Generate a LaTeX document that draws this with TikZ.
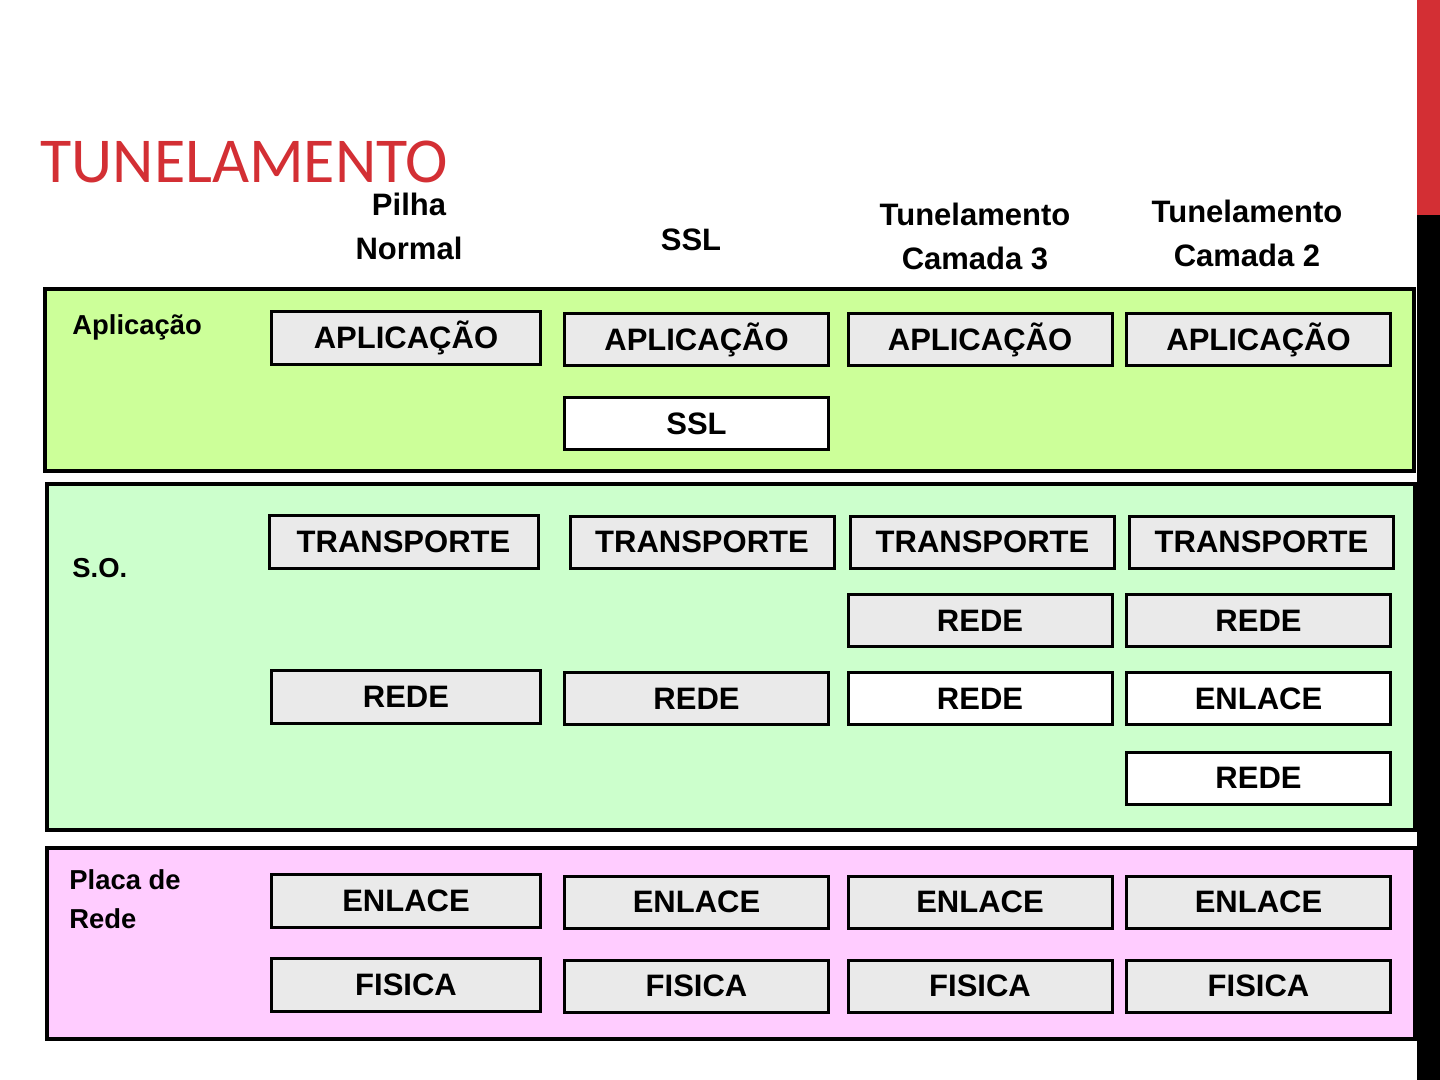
\documentclass[tikz,border=0pt]{standalone}
\usepackage{fontspec}
\setmainfont{Liberation Sans}
\newfontfamily\titulofont{Carlito}
\definecolor{vermelho}{RGB}{211,47,52}
\definecolor{verdeapp}{RGB}{204,255,153}
\definecolor{verdeso}{RGB}{204,255,204}
\definecolor{rosa}{RGB}{255,204,255}
\definecolor{cinza}{RGB}{234,234,234}
\begin{document}
\begin{tikzpicture}[x=0.5pt, y=-0.5pt,
	painel/.style={draw, line width=2pt},
	camada/.style={draw, line width=1.5pt, fill=cinza, minimum width=132pt, minimum height=26pt, inner sep=0pt, font=\fontsize{15.5}{18}\selectfont\bfseries},
	pilha/.style={camada, minimum width=134.5pt, minimum height=26.5pt},
	branca/.style={camada, fill=white},
	titcol/.style={font=\fontsize{15.5}{22}\selectfont\bfseries, align=center, inner sep=0pt},
	rotulo/.style={anchor=west, inner sep=0pt, font=\fontsize{13.7}{19.5}\selectfont\bfseries, align=left}]
	\useasboundingbox (0,0) rectangle (1440,1080);
	
	% barra lateral
	\fill[vermelho] (1417,0) rectangle (1440,215);
	\fill[black] (1417,215) rectangle (1440,1080);
	
	% titulo
	\node[anchor=base west, inner sep=0pt, text=vermelho, font=\titulofont\fontsize{32}{34}\selectfont] (titulo) at (40,183) {TUNELAMENTO};
	
	% cabecalhos das colunas
	\node[titcol] (cabNormal) at (409,226) {Pilha\\Normal};
	\node[titcol] (cabSSL) at (691,240) {SSL};
	\node[titcol] (cabT3) at (975,236) {Tunelamento\\Camada 3};
	\node[titcol] (cabT2) at (1247,233) {Tunelamento\\Camada 2};
	
	% paineis
	\draw[painel, fill=verdeapp] (45,289) rectangle (1414,471);
	\draw[painel, fill=verdeso] (47,484) rectangle (1415,830);
	\draw[painel, fill=rosa] (47,848) rectangle (1415,1039);
	
	\node[rotulo] (rotApp) at (72,327) {Aplicação};
	\node[rotulo] (rotSO) at (72,568) {S.O.};
	\node[rotulo] (rotPlaca) at (69,899) {Placa de\\Rede};
	
	% pilha normal
	\node[pilha] (n1) at (406,338) {APLICAÇÃO};
	\node[pilha] (n2) at (403.5,542) {TRANSPORTE};
	\node[pilha] (n3) at (406,697) {REDE};
	\node[pilha] (n4) at (406,901) {ENLACE};
	\node[pilha] (n5) at (406,985) {FISICA};
	
	% SSL
	\node[camada] (s1) at (696.5,340) {APLICAÇÃO};
	\node[branca] (s2) at (696.5,423.5) {SSL};
	\node[camada] (s3) at (702,542) {TRANSPORTE};
	\node[camada] (s4) at (696.5,698.5) {REDE};
	\node[camada] (s5) at (696.5,902) {ENLACE};
	\node[camada] (s6) at (696.5,986) {FISICA};
	
	% tunelamento camada 3
	\node[camada] (a1) at (980,340) {APLICAÇÃO};
	\node[camada] (a2) at (982.5,542) {TRANSPORTE};
	\node[camada] (a3) at (980,620.5) {REDE};
	\node[branca] (a4) at (980,698.5) {REDE};
	\node[camada] (a5) at (980,902) {ENLACE};
	\node[camada] (a6) at (980,986) {FISICA};
	
	% tunelamento camada 2
	\node[camada] (b1) at (1258.5,340) {APLICAÇÃO};
	\node[camada] (b2) at (1261.5,542) {TRANSPORTE};
	\node[camada] (b3) at (1258.5,620.5) {REDE};
	\node[branca] (b4) at (1258.5,698.5) {ENLACE};
	\node[branca] (b5) at (1258.5,778) {REDE};
	\node[camada] (b6) at (1258.5,902) {ENLACE};
	\node[camada] (b7) at (1258.5,986) {FISICA};
\end{tikzpicture}
\end{document}
